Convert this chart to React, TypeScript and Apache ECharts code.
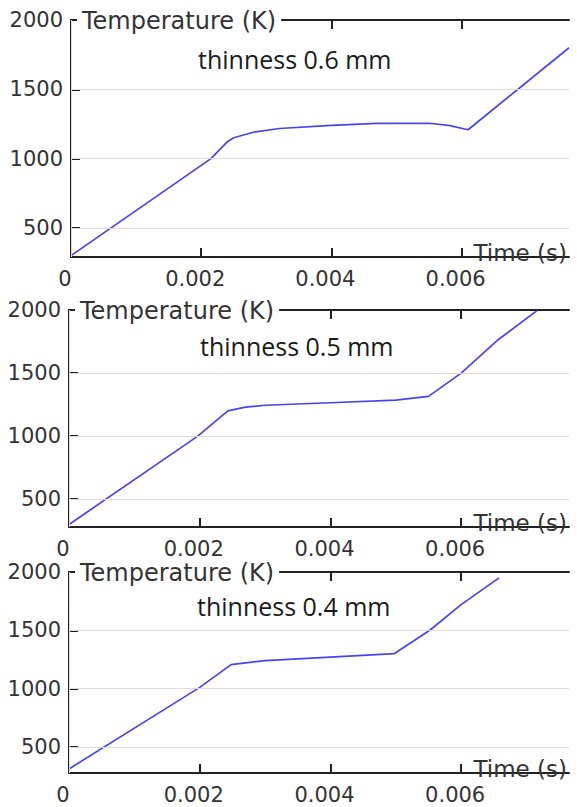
import React, { useEffect, useRef } from "react";
import * as echarts from "echarts";

// ---- data ----
const time06 = [0, 0.00215, 0.0024, 0.0025, 0.0028, 0.0032, 0.004, 0.0047, 0.0055, 0.0058, 0.0061, 0.00765];
const temp06 = [300, 1000, 1120, 1150, 1190, 1217, 1240, 1254, 1255, 1240, 1208, 1800];

const time05 = [0, 0.00197, 0.00243, 0.0027, 0.003, 0.004, 0.005, 0.0055, 0.006, 0.00655, 0.00716];
const temp05 = [300, 1000, 1200, 1230, 1245, 1265, 1285, 1315, 1500, 1758, 1995];

const time04 = [0, 0.002, 0.00248, 0.003, 0.004, 0.00498, 0.00552, 0.006, 0.00658];
const temp04 = [310, 1010, 1205, 1240, 1270, 1300, 1500, 1720, 1950];

const panelLabels = ["thinness 0.6 mm", "thinness 0.5 mm", "thinness 0.4 mm"];
const xTickValues = [0.002, 0.004, 0.006];
const xLabelValues = [0, 0.002, 0.004, 0.006];
const yLabelValues = [500, 1000, 1500, 2000];
const yGridValues = [500, 1000, 1500];
const yMins = [290, 280, 275];
const yMax = 2000;
const xMax = 0.00765;
const yAxisName = "Temperature (K)";
const xAxisName = "Time (s)";

// ---- layout ----
const grids = [
  { left: 71, top: 20, width: 498, height: 237 },
  { left: 69, top: 310, width: 500, height: 217 },
  { left: 69, top: 572, width: 500, height: 201 },
];
const panelLabelPos = [
  { x: 194, y: 59 },
  { x: 196, y: 346 },
  { x: 193, y: 606 },
];

const AXIS_COLOR = "#222";
const TEXT_COLOR = "#333";
const GRID_COLOR = "#dcdcdc";
const LINE_COLOR = "#4646ee";
const TICK_FONT = "DejaVu Sans";

export default function App() {
  const ref = useRef<HTMLDivElement>(null);

  useEffect(() => {
    if (!ref.current) return;
    const chart = echarts.init(ref.current, undefined, { renderer: "svg" });

    const series: any[] = [];
    const xAxes: any[] = [];
    const yAxes: any[] = [];
    const graphics: any[] = [];
    const datasets = [
      [time06, temp06],
      [time05, temp05],
      [time04, temp04],
    ];

    grids.forEach((g, i) => {
      xAxes.push({
        type: "value",
        gridIndex: i,
        min: 0,
        max: xMax,
        position: "bottom",
        axisLine: { show: true, lineStyle: { color: AXIS_COLOR, width: 2 } },
        axisTick: {
          show: true,
          inside: true,
          length: 9,
          customValues: xTickValues,
          lineStyle: { color: AXIS_COLOR, width: 2 },
        },
        axisLabel: {
          show: true,
          customValues: xLabelValues,
          fontFamily: TICK_FONT,
          fontSize: 21,
          color: TEXT_COLOR,
          margin: 11,
          padding: [0, 12, 0, 0],
          formatter: (v: number) => (v === 0 ? "0" : v.toFixed(3)),
        },
        splitLine: { show: false },
      });
      xAxes.push({
        type: "value",
        gridIndex: i,
        min: 0,
        max: xMax,
        position: "top",
        axisLine: { show: true, lineStyle: { color: AXIS_COLOR, width: 2 } },
        axisTick: {
          show: true,
          inside: true,
          length: 9,
          customValues: xTickValues,
          lineStyle: { color: AXIS_COLOR, width: 2 },
        },
        axisLabel: { show: false },
        splitLine: { show: false },
      });
      yAxes.push({
        type: "value",
        gridIndex: i,
        min: yMins[i],
        max: yMax,
        position: "left",
        axisLine: { show: true, lineStyle: { color: AXIS_COLOR, width: 2 } },
        axisTick: {
          show: true,
          inside: true,
          length: 9,
          customValues: yLabelValues,
          lineStyle: { color: AXIS_COLOR, width: 2 },
        },
        axisLabel: {
          show: true,
          customValues: yLabelValues,
          fontFamily: TICK_FONT,
          fontSize: 21,
          color: TEXT_COLOR,
          margin: 8,
          formatter: (v: number) => String(v),
        },
        splitLine: { show: false },
      });
      yAxes.push({
        type: "value",
        gridIndex: i,
        min: yMins[i],
        max: yMax,
        position: "right",
        axisLine: { show: true, lineStyle: { color: AXIS_COLOR, width: 2 } },
        axisTick: { show: false },
        axisLabel: { show: false },
        splitLine: { show: false },
      });

      // grid lines
      series.push({
        type: "line",
        xAxisIndex: i * 2,
        yAxisIndex: i * 2,
        data: [],
        z: 1,
        silent: true,
        markLine: {
          silent: true,
          symbol: "none",
          animation: false,
          label: { show: false },
          lineStyle: { color: GRID_COLOR, width: 1, type: "solid" },
          data: [
            ...yGridValues.map((v) => ({ yAxis: v })),
            ...xTickValues.map((v) => ({ xAxis: v })),
          ],
        },
      });

      const [ts, vs] = datasets[i];
      series.push({
        type: "line",
        name: panelLabels[i],
        xAxisIndex: i * 2,
        yAxisIndex: i * 2,
        data: ts.map((t, k) => [t, vs[k]]),
        showSymbol: false,
        smooth: false,
        z: 3,
        lineStyle: { color: LINE_COLOR, width: 1.7 },
      });

      graphics.push({
        type: "text",
        x: g.left + 6,
        y: g.top + 1,
        z: 100,
        style: {
          text: yAxisName,
          fontFamily: TICK_FONT,
          fontSize: 24,
          fill: TEXT_COLOR,
          verticalAlign: "middle",
          align: "left",
          backgroundColor: "#fff",
          padding: [3, 5, 3, 5],
        },
      });
      graphics.push({
        type: "text",
        x: g.left + g.width - 2,
        y: g.top + g.height - 4,
        z: 100,
        style: {
          text: xAxisName,
          fontFamily: TICK_FONT,
          fontSize: 23,
          fill: TEXT_COLOR,
          verticalAlign: "middle",
          align: "right",
        },
      });
      graphics.push({
        type: "text",
        x: panelLabelPos[i].x,
        y: panelLabelPos[i].y,
        z: 100,
        style: {
          text: panelLabels[i],
          fontFamily: "Open Sans",
          fontSize: 25,
          fill: "#1a1a1a",
          verticalAlign: "middle",
          align: "left",
          backgroundColor: "#fff",
          padding: [8, 4, 8, 4],
        },
      });
    });

    chart.setOption({
      animation: false,
      backgroundColor: "#fff",
      grid: grids.map((g) => ({ ...g, containLabel: false })),
      xAxis: xAxes,
      yAxis: yAxes,
      series,
      graphic: graphics,
    });

    return () => chart.dispose();
  }, []);

  return (
    <div
      ref={ref}
      style={{ position: "absolute", left: 0, top: 0, width: 577, height: 807 }}
    />
  );
}
